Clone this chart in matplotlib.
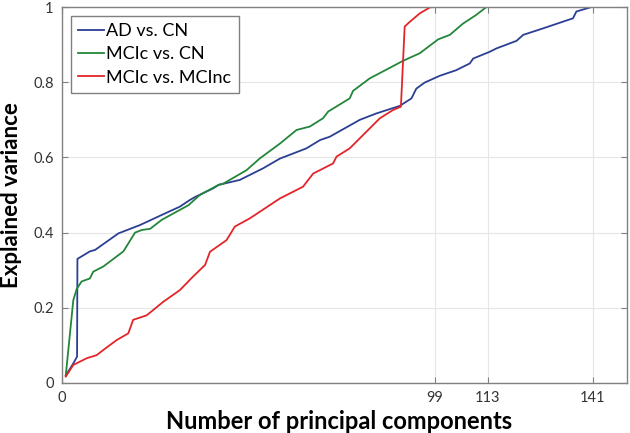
import numpy as np
import matplotlib.pyplot as plt

plt.rcParams['font.family'] = ['Lato', 'DejaVu Sans']

# traced curves (component index, explained variance)
ad_x = [1, 3, 4, 4.1, 7.4, 8.8, 15, 20.7, 26.5, 31.3, 34, 35.4, 40.2, 41.6, 47.2, 53.4, 57.9,
        64.9, 68.5, 71.1, 79.1, 83.5, 89.7, 92.8, 94.1, 96.3, 100.3, 104.7, 108.3, 109.2,
        113.6, 115.4, 120.7, 122.5, 127.7, 135.7, 136.6, 140.6, 141]
ad_y = [0.02, 0.052, 0.07, 0.33, 0.35, 0.354, 0.398, 0.42, 0.447, 0.469, 0.487, 0.495, 0.518,
        0.527, 0.54, 0.571, 0.597, 0.624, 0.646, 0.655, 0.70, 0.717, 0.737, 0.757, 0.783,
        0.799, 0.817, 0.832, 0.85, 0.863, 0.881, 0.89, 0.91, 0.926, 0.943, 0.97, 0.988, 1.0, 1.0]

mcn_x = [1, 3, 3.9, 5.2, 7.4, 8.3, 11, 16.3, 19.4, 21.2, 23.4, 26.5, 33.6, 36.6, 41.6, 42.8,
         49, 52.5, 57.9, 62.3, 65.8, 69.3, 70.7, 76.4, 77.3, 81.7, 90.6, 95, 99.9, 103, 106.5,
         110, 112.7, 113]
mcn_y = [0.02, 0.22, 0.25, 0.27, 0.278, 0.296, 0.31, 0.35, 0.40, 0.407, 0.41, 0.434, 0.473,
         0.5, 0.527, 0.53, 0.566, 0.597, 0.637, 0.673, 0.682, 0.704, 0.722, 0.757, 0.777, 0.81,
         0.857, 0.877, 0.914, 0.926, 0.956, 0.979, 1.0, 1.0]

mci_x = [1, 3, 6.6, 9.2, 11, 14.5, 17.6, 18.9, 22.5, 26.9, 31.3, 34.8, 38, 39.3, 43.7, 45.9,
         49.9, 57.9, 64, 66.7, 72, 72.9, 76.4, 81.7, 84.4, 87.9, 90, 91, 92.4, 95, 97.7, 99]
mci_y = [0.017, 0.048, 0.066, 0.074, 0.088, 0.114, 0.132, 0.168, 0.18, 0.216, 0.247, 0.283,
         0.314, 0.349, 0.38, 0.416, 0.438, 0.491, 0.522, 0.557, 0.584, 0.602, 0.624, 0.677,
         0.704, 0.726, 0.735, 0.948, 0.961, 0.983, 0.999, 1.0]

x_ticks = [0, 99, 113, 141]
y_ticks = [0, 0.2, 0.4, 0.6, 0.8, 1]

fig = plt.figure(figsize=(6.3, 4.33), dpi=100)
ax = fig.add_axes([0.0984, 0.1155, 0.8966, 0.8683])

ax.plot(ad_x, ad_y, color='#2b3f94', lw=1.3, label='AD vs. CN')
ax.plot(mcn_x, mcn_y, color='#23863a', lw=1.3, label='MCIc vs. CN')
ax.plot(mci_x, mci_y, color='#e32529', lw=1.3, label='MCIc vs. MCInc')

ax.set_xlim(0, 150)
ax.set_ylim(0, 1)
ax.set_xticks(x_ticks)
ax.set_yticks(y_ticks)
ax.set_yticklabels(['0', '0.2', '0.4', '0.6', '0.8', '1'])
ax.grid(True, color='#e6e6e6', lw=0.8)
ax.set_axisbelow(True)
ax.tick_params(direction='in', top=True, right=True, length=4, color='#808080',
               labelsize=10.5, labelcolor='#333333', pad=6)
for s in ax.spines.values():
    s.set_color('#808080')
    s.set_linewidth(1)

ax.set_xlabel('Number of principal components', fontsize=17, fontweight='bold')
ax.xaxis.set_label_coords(0.49, -0.072)
ax.set_ylabel('Explained variance', fontsize=16, fontweight='bold', labelpad=8)

leg = ax.legend(loc='upper left', fontsize=13, handlelength=1.4, handletextpad=0.15,
                labelspacing=0.4, borderpad=0.4, fancybox=False, framealpha=1,
                borderaxespad=0.5)
leg.get_frame().set_edgecolor('#808080')

fig.savefig('out.png', dpi=100)
